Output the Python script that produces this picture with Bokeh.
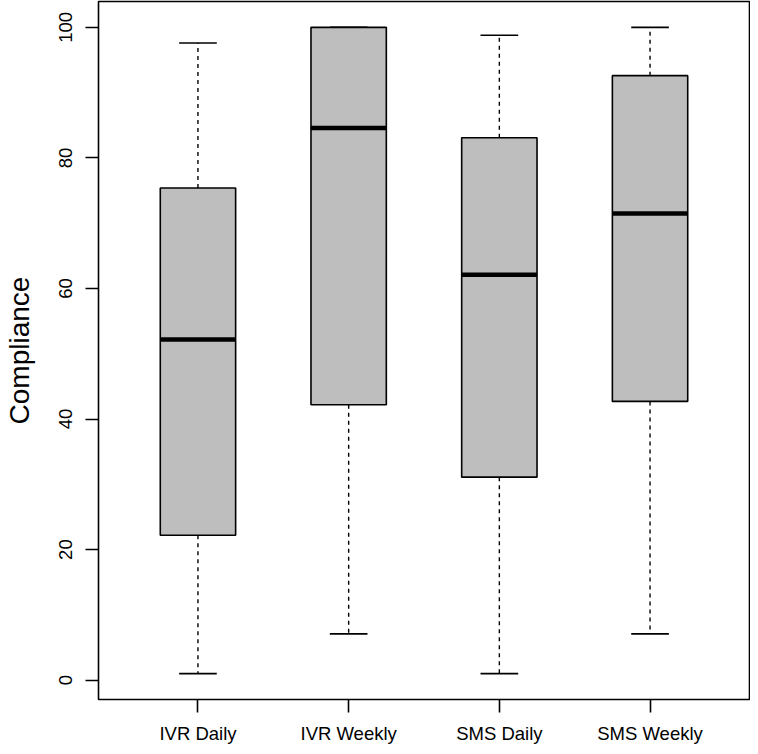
from bokeh.plotting import figure
from bokeh.models import FixedTicker, Range1d
from bokeh.embed import file_html
from bokeh.resources import INLINE

categories = ["IVR Daily", "IVR Weekly", "SMS Daily", "SMS Weekly"]
whisker_low = [1.0, 7.1, 1.0, 7.1]
q1 = [22.2, 42.2, 31.1, 42.7]
median = [52.2, 84.6, 62.1, 71.5]
q3 = [75.4, 100.0, 83.1, 92.6]
whisker_high = [97.6, 100.0, 98.8, 100.0]
y_ticks = [0, 20, 40, 60, 80, 100]

xs = [i + 1 for i in range(len(categories))]
box_w = 0.5
staple_half = box_w / 4

lo, hi = min(whisker_low), max(whisker_high)
pad = (hi - lo) * 0.04
n = len(categories)
xpad = n * 0.04

p = figure(width=750, height=746, output_backend="svg", toolbar_location=None,
           x_range=Range1d(0.5 - xpad, n + 0.5 + xpad),
           y_range=Range1d(lo - pad, hi + pad),
           min_border_left=87, min_border_top=1, min_border_right=1, min_border_bottom=10)
p.background_fill_color = "white"
p.border_fill_color = "white"
p.outline_line_color = "black"
p.outline_line_width = 1.6
p.xgrid.visible = False
p.ygrid.visible = False

FONT = "Liberation Sans"

# whiskers (dashed)
p.segment(x0=xs, y0=q3, x1=xs, y1=whisker_high, line_color="black", line_width=1.4, line_dash="4 4")
p.segment(x0=xs, y0=q1, x1=xs, y1=whisker_low, line_color="black", line_width=1.4, line_dash="4 4")
# staples
p.segment(x0=[x - staple_half for x in xs], y0=whisker_high, x1=[x + staple_half for x in xs], y1=whisker_high,
          line_color="black", line_width=1.6)
p.segment(x0=[x - staple_half for x in xs], y0=whisker_low, x1=[x + staple_half for x in xs], y1=whisker_low,
          line_color="black", line_width=1.6)
# boxes
p.vbar(x=xs, width=box_w, bottom=q1, top=q3, fill_color="#BEBEBE", line_color="black", line_width=1.6)
# medians
p.segment(x0=[x - box_w / 2 for x in xs], y0=median, x1=[x + box_w / 2 for x in xs], y1=median,
          line_color="black", line_width=4.5)

# axes
p.xaxis.ticker = FixedTicker(ticks=xs)
p.xaxis.major_label_overrides = {x: c for x, c in zip(xs, categories)}
p.yaxis.ticker = FixedTicker(ticks=y_ticks)
p.yaxis.major_label_orientation = "vertical"
for ax in (p.xaxis[0], p.yaxis[0]):
    ax.axis_line_color = None
    ax.major_tick_in = 0
    ax.major_tick_out = 13
    ax.major_tick_line_color = "black"
    ax.major_tick_line_width = 1.6
    ax.minor_tick_line_color = None
    ax.major_label_text_font = FONT
    ax.major_label_text_font_size = "18.5px"
    ax.major_label_text_color = "black"
p.xaxis.major_label_standoff = 10
p.xaxis.axis_label_standoff = 0
p.yaxis.major_label_standoff = 13
p.yaxis.axis_label = "Compliance"
p.yaxis.axis_label_text_font = FONT
p.yaxis.axis_label_text_font_size = "28px"
p.yaxis.axis_label_text_font_style = "normal"
p.yaxis.axis_label_text_color = "black"
p.yaxis.axis_label_standoff = 22

open("out.html", "w").write(file_html(p, INLINE))
